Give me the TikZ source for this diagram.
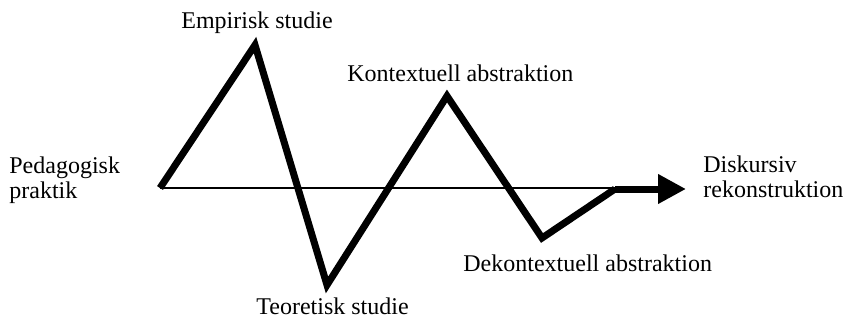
\documentclass[tikz,border=0pt]{standalone}
\usepackage{fontspec}
\setmainfont{Liberation Serif}
\usepackage{tikz}
\usetikzlibrary{arrows.meta}

\begin{document}
\begin{tikzpicture}[x=0.5pt, y=-0.5pt, every node/.style={font=\fontsize{12}{12.5}\selectfont, inner sep=0pt},
	zigzag/.style={line width=3.5pt, line join=miter},
	baseline/.style={line width=1pt}]
	\useasboundingbox (0,0) rectangle (846,322);

	% punkter
	\coordinate (start) at (160,188);
	\coordinate (empiri) at (255,45);
	\coordinate (teori) at (327,285);
	\coordinate (kontext) at (447,96);
	\coordinate (dekontext) at (542,238);
	\coordinate (knick) at (615,189);
	\coordinate (slut) at (686,189);

	% tunn linje
	\draw[baseline] (start) -- (start -| knick);

	% sicksack
	\draw[zigzag] (start) -- (empiri) -- (teori) -- (kontext) -- (dekontext) -- (knick);
	\draw[zigzag, -{Triangle[length=14pt, width=14pt]}] (knick) -- (slut);

	% texter (base = sista radens baslinje)
	\node[anchor=base] (tEmpiri) at (257,28) {Empirisk studie};
	\node[anchor=base west] (tKontext) at (347,81) {Kontextuell abstraktion};
	\node[anchor=base west, align=left] (tPraktik) at (9,198) {Pedagogisk\\praktik};
	\node[anchor=base west, align=left] (tDiskurs) at (703,197) {Diskursiv\\rekonstruktion};
	\node[anchor=base west] (tDekontext) at (463,271) {Dekontextuell abstraktion};
	\node[anchor=base west] (tTeori) at (256,314) {Teoretisk studie};
\end{tikzpicture}
\end{document}
